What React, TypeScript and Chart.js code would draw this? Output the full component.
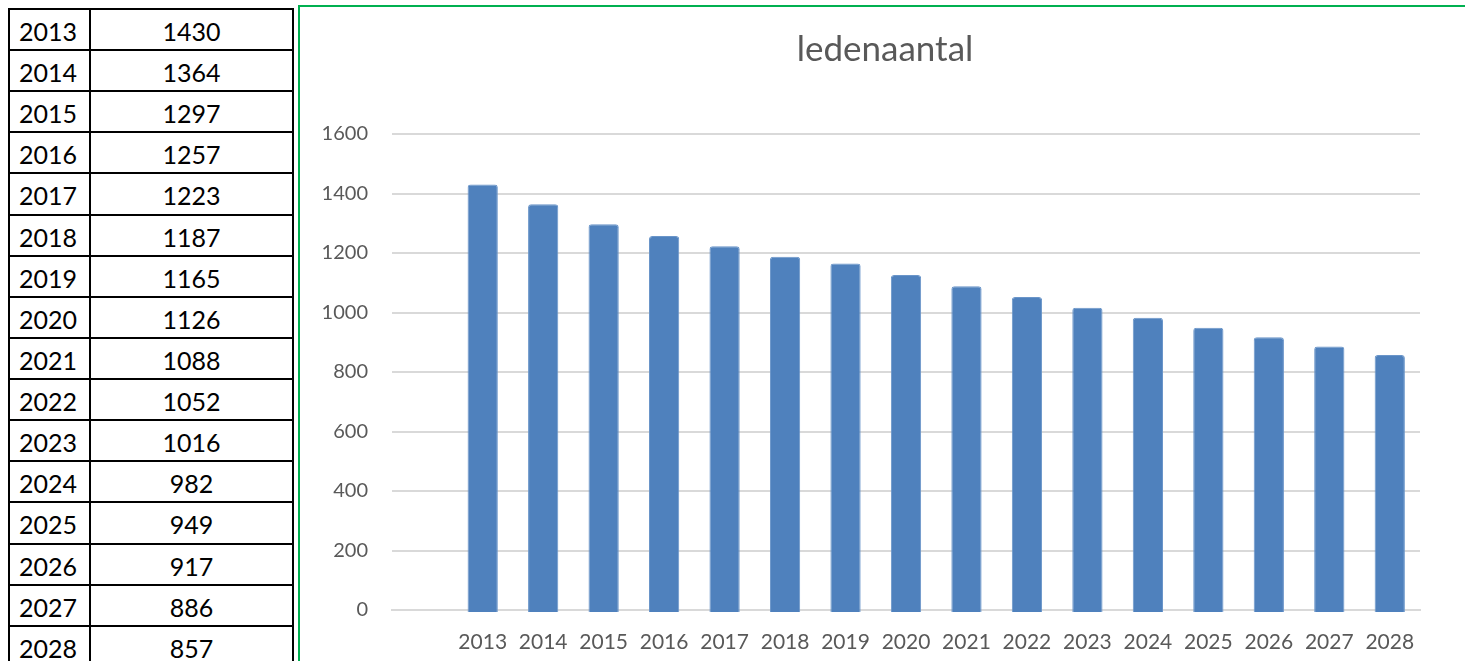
import React, { useEffect, useRef } from "react";
import { Chart, registerables } from "chart.js";

Chart.register(...registerables);

const years: string[] = ["2013", "2014", "2015", "2016", "2017", "2018", "2019", "2020", "2021", "2022", "2023", "2024", "2025", "2026", "2027", "2028"];
const members: number[] = [1430, 1364, 1297, 1257, 1223, 1187, 1165, 1126, 1088, 1052, 1016, 982, 949, 917, 886, 857];
const chartTitle = "ledenaantal";
const yMax = 1600;
const yStep = 200;

const FONT = "Lato, 'Open Sans', sans-serif";

function Table() {
  const rowH = 41.12;
  return (
    <div style={{ position: "absolute", left: 8, top: 8, width: 284, borderLeft: "2px solid #000", borderTop: "2px solid #000" }}>
      {years.map((y, i) => (
        <div key={y} style={{ position: "absolute", left: -2, top: -2 + i * rowH, width: 286, height: rowH + 2, fontFamily: FONT, fontSize: 25, color: "#000" }}>
          <div style={{ position: "absolute", left: 0, top: 0, width: 83, height: rowH + 2, boxSizing: "border-box", border: "2px solid #000", paddingLeft: 9, lineHeight: `${rowH + 1}px` }}>{y}</div>
          <div style={{ position: "absolute", left: 81, top: 0, width: 205, height: rowH + 2, boxSizing: "border-box", border: "2px solid #000", textAlign: "center", lineHeight: `${rowH + 1}px` }}>{members[i]}</div>
        </div>
      ))}
    </div>
  );
}

export default function App() {
  const ref = useRef<HTMLCanvasElement | null>(null);
  useEffect(() => {
    if (!ref.current) return;
    const labels = ["", ...years];
    const data = [null, ...members];
    const chart = new Chart(ref.current, {
      type: "bar",
      data: {
        labels,
        datasets: [
          {
            label: chartTitle,
            data,
            backgroundColor: "#4f81bd",
            borderColor: "#6a95c9",
            borderWidth: 1,
            borderRadius: 3,
            categoryPercentage: 1,
            barPercentage: 0.5,
            base: -7,
            clip: false,
          } as any,
        ],
      },
      options: {
        responsive: false,
        animation: false,
        layout: { padding: { left: 0, right: 0, top: 0, bottom: 0 } },
        plugins: {
          legend: { display: false },
          tooltip: { enabled: false },
          title: {
            display: true,
            text: chartTitle,
            color: "#595959",
            font: { family: FONT, size: 35, weight: "normal" },
            padding: { top: 22, bottom: 63 },
          },
        },
        scales: {
          x: {
            z: 1,
            grid: { display: false, drawTicks: false },
            border: { display: true, color: "#d9d9d9", width: 2 },
            ticks: { color: "#595959", font: { family: FONT, size: 21 }, padding: 20, autoSkip: false, maxRotation: 0 },
            afterFit: (s: any) => { s.height = 51; },
          },
          y: {
            min: 0,
            max: yMax,
            grid: { color: "#d9d9d9", lineWidth: 2, drawTicks: false },
            border: { display: false },
            ticks: { stepSize: yStep, color: "#595959", font: { family: FONT, size: 20 }, padding: 24, callback: (v: any) => String(v) },
            afterFit: (s: any) => { s.width = 92; },
          },
          y2: {
            position: "right",
            display: true,
            grid: { display: false, drawTicks: false },
            border: { display: false },
            ticks: { display: false },
            afterFit: (s: any) => { s.width = 50; },
          },
        },
      },
    });
    return () => chart.destroy();
  }, []);
  return (
    <div style={{ position: "fixed", left: 0, top: 0, width: 1465, height: 661, overflow: "hidden", background: "#fff" }}>
      <Table />
      <div style={{ position: "absolute", left: 298, top: 5, width: 1300, height: 800, border: "2px solid #00b050" }}>
        <canvas ref={ref} width={1170} height={654} style={{ position: "absolute", left: 0, top: 0, width: 1170, height: 654 }} />
      </div>
    </div>
  );
}
